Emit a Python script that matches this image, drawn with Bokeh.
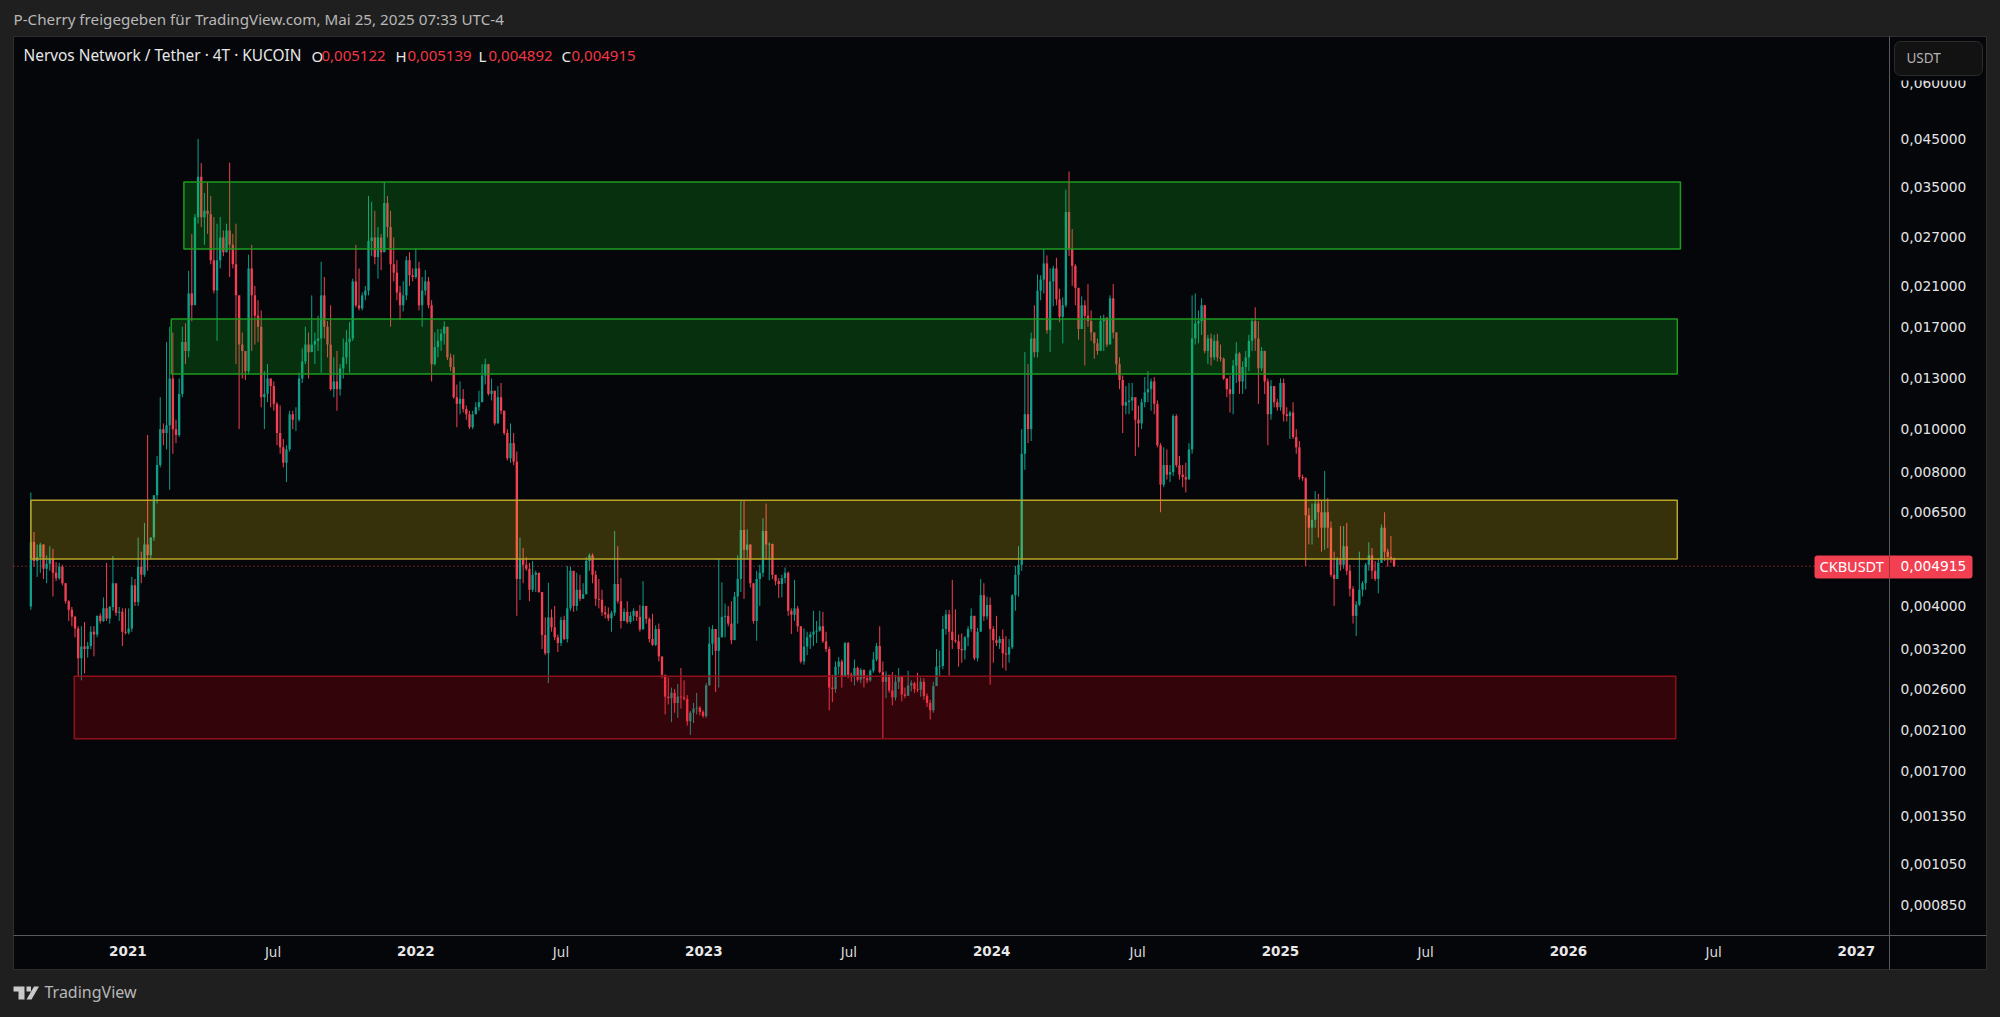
import math
import pandas as pd
from bokeh.embed import file_html
from bokeh.resources import INLINE
from bokeh.plotting import figure
from bokeh.models import (BoxAnnotation, ColumnDataSource, CustomJSTickFormatter, FixedTicker, Label,
                          LinearAxis, PolyAnnotation, Range1d)

PRICE_UNIT = 1e-6
first_open = 3990
start_date = "2020-08-31"
step_days = 4

closes = [
    5570,5050,5150,5500,4850,4980,5100,4750,4620,4900,
    4500,4100,3920,3780,3560,3050,3240,3200,3250,3500,
    3450,3800,3700,3950,3750,3980,4500,3860,3880,3500,
    3480,3560,4450,4080,4900,4700,5500,5200,5700,7100,
    8300,10000,9800,10200,13000,10000,9700,12000,15700,15000,
    20200,19000,30000,37000,30000,31000,30500,24000,20500,24000,
    27000,25000,28000,26000,23500,20000,15500,15000,13500,23000,
    20000,18000,17000,11800,12000,13000,12500,11400,9800,9100,
    8400,9000,10800,10500,10500,13000,14200,15500,14900,
    15500,15800,16000,20000,17000,15500,12300,12800,12300,13700,
    14500,15700,16000,21500,19000,18700,20000,20500,26500,27000,
    24400,27000,25000,32300,28500,23500,22500,20300,19000,20000,
    24000,22200,22000,23000,19000,20500,21500,19000,14000,15300,
    15800,16400,17000,14500,13800,11800,11400,11700,11100,10800,
    10100,10800,11200,11500,13200,14000,12000,12200,10300,11800,
    11000,9800,8600,9300,8450,4600,5100,4950,4850,4350,
    4700,4750,4300,3440,3130,3770,3580,3400,3300,3720,
    3370,3950,4800,4000,4350,4150,
    4250,5050,5200,4700,4150,4130,3870,3830,3750,3860,
    4480,4100,3700,3880,3680,3800,3900,3780,3540,4000,
    3740,3370,3270,3550,3080,2800,2500,2480,2550,2420,
    2500,2490,2470,2200,2300,2350,2360,2310,2260,2650,
    3290,3550,3170,3400,3780,3800,3650,3350,4200,4600,
    5930,5350,5500,4500,3700,4600,4750,5900,5500,5520,
    4700,4550,4480,4620,4750,3900,3820,3950,3600,3000,
    3240,3400,3450,3500,3520,3600,3330,3200,2620,2600,
    2920,3000,2780,3300,2800,
    2770,2900,2730,2870,2750,2720,2860,3030,3250,2840,
    2700,2800,2580,2490,2700,2770,2530,2510,2650,2680,
    2600,2590,2700,2510,2420,2330,2640,2920,2930,3550,
    3830,3500,3350,3330,3200,3180,3400,3550,3800,3050,
    3500,4230,3790,4020,3550,3350,3300,3370,3130,3110,
    3230,4230,4700,4950,
    8800,10800,10000,16000,14900,20500,21700,23600,16700,21500,
    23000,19600,17900,19000,30800,25500,23300,20800,16800,19000,
    18000,17500,16500,15600,15000,17500,17800,15500,19700,16500,
    14000,12900,11300,11500,11600,11800,10500,10300,11500,12100,
    12300,12800,11400,9200,7500,8300,7900,8000,10700,8300,
    7900,7800,7700,9000,16000,17300,17500,19000,15000,16000,
    14500,15800,14500,14400,13000,12300,12000,13900,14800,12800,
    13800,14500,15800,17500,16000,13700,15000,12800,10800,12500,
    11500,11200,12700,10800,10700,10900,9600,9100,7800,7750,
    6400,6000,6250,6800,6500,6000,6500,6000,4700,4600,
    5100,4950,5450,4800,4370,3800,4030,4350,4500,4950,
    5200,4800,4600,5000,6000,5300,5160,5122,4915,
]
highs = [
    7200,5870,5500,5550,5500,5200,5450,5380,5020,5000,
    4950,4500,4120,3980,3800,3600,3600,3680,3320,3600,
    3600,3800,3850,4180,5000,4000,5180,4450,3980,3950,
    3950,3950,4650,4600,5700,5300,6150,9700,5700,7100,
    8700,11800,10300,15700,17000,16500,10500,13000,17000,17300,
    22700,27500,30500,45000,39700,34000,36000,33500,30000,29000,
    30000,28000,29000,39800,27500,29000,19500,16500,15000,24700,
    26000,21000,19500,18500,13500,14000,13000,12800,11500,11300,
    9500,9200,11000,11000,11200,13400,15200,17000,16500,
    20000,16500,18000,23800,22000,17500,19000,14500,15000,14000,
    16000,16700,17400,21800,26000,23000,20300,21000,33500,32500,
    31000,28500,27500,36000,33500,31000,27000,24000,21000,21500,
    24500,25000,23000,25500,23800,22000,22800,22000,19500,16500,
    16800,16800,17500,17000,14800,14700,12600,12800,12300,11300,
    11000,11000,11500,12200,14000,14400,14000,13000,12200,12500,
    12700,11000,10000,10300,9800,8900,5700,5400,5150,5000,
    5050,4800,4750,4300,3770,4510,3930,4000,3450,3780,
    3800,4920,4900,4700,4750,4700,
    4500,5150,5250,5250,4800,4600,4350,4000,3970,3900,
    5900,5450,4620,3950,4100,3880,3950,3820,4020,4550,
    4000,3770,3840,3620,3650,3050,2750,2760,2620,2600,
    2670,2900,2720,2520,2320,2420,2550,2380,2330,2680,
    3590,3620,3450,5100,4520,4050,4000,4100,4300,5200,
    6920,6920,5950,5500,4500,4800,4950,6300,6800,5560,
    5500,4700,4620,4700,4880,4780,3950,4580,4000,3600,
    3560,3500,3500,3900,3700,3900,3880,3500,3240,2800,
    3000,3070,3030,3320,3320,
    2830,3030,2920,2900,2880,2800,2880,3150,3300,3600,
    3000,2850,2720,2840,2800,2900,2780,2620,2860,2720,
    2700,2830,2760,2750,2540,2460,2700,3200,3170,3800,
    3920,3920,4580,3930,3450,3470,3420,3600,3950,3800,
    3570,4600,4500,4200,4180,3600,3800,3420,3540,3420,
    3370,4250,4920,5450,
    10000,14900,14000,16500,19000,22300,22200,25500,24600,23000,
    23300,24300,20700,19800,34600,38000,28200,23500,19700,19900,
    19500,21200,18500,16500,16000,18000,18100,17900,20000,21200,
    16500,14500,13200,12500,12700,12700,11700,11300,11700,13100,
    13500,13000,13100,11600,9300,9100,9000,8300,10800,10800,
    8700,8300,8400,9300,20000,20200,18500,19700,19000,16300,
    16400,16300,16400,15500,14500,13000,13200,14300,15700,14900,
    14200,15000,16300,17800,18800,17500,15300,15000,13000,12900,
    12500,11700,13000,13000,11200,11000,11500,10000,9400,7900,
    7800,6650,6800,7250,7150,6900,8050,7000,6200,5300,
    5150,6050,6050,6150,4950,4430,4100,5300,4550,5000,
    5560,5400,5050,5100,6100,6500,5380,5750,5139,
]
lows = [
    3920,4900,4650,4750,4600,4500,4800,4200,4550,4580,
    4450,4050,3700,3600,3400,2780,2720,2820,3060,3200,
    3080,3400,3650,3680,3700,3650,3900,3800,3700,3250,
    3450,3450,3500,4000,4000,4500,4650,4800,5100,5600,
    6800,8200,9200,9000,7300,8800,9300,9600,11800,14000,
    14500,17500,20500,29000,28500,26000,27500,23500,20200,15800,
    23000,24500,25000,22000,23000,14000,10000,13000,12900,13300,
    15000,15500,15700,11200,10000,11500,11200,11000,9200,8800,
    8200,7600,8900,10000,9900,10400,12700,14000,13000,
    15000,14000,15000,13400,16000,14500,12200,11800,11000,11900,
    13000,14000,13400,15800,18800,18500,18500,19500,20000,24500,
    23500,21800,22800,25500,27000,17000,21500,19500,17600,18400,
    19500,21000,21500,21800,18500,17000,20000,18700,12800,13900,
    14500,15000,15500,14300,13500,11700,10100,10800,10900,10500,
    10000,10000,10900,11000,11500,12600,11900,11600,10200,10300,
    10800,9700,8500,8400,8300,3800,4120,4500,4800,4100,
    4300,4300,4280,3200,3100,2680,3500,3350,3150,3250,
    3350,3310,3900,3880,3900,4100,
    4200,4250,4800,4500,4000,3950,3800,3750,3700,3500,
    3800,4050,3560,3700,3650,3650,3700,3700,3500,3700,
    3650,3310,3250,3250,3000,2750,2280,2400,2190,2300,
    2240,2350,2450,2150,2050,2180,2280,2270,2240,2240,
    2650,3100,2560,2620,3400,3400,3600,3280,3400,3650,
    4300,4150,5100,4400,3650,3340,4000,4650,5100,4570,
    4600,4450,4170,4180,4500,3800,3460,3700,3500,2970,
    2950,3100,3200,3250,3300,3500,3300,3150,2330,2430,
    2550,2800,2620,2780,2750,
    2700,2650,2700,2680,2620,2680,2700,2830,3000,2820,
    2010,2480,2550,2390,2450,2600,2440,2480,2550,2570,
    2550,2560,2500,2460,2370,2220,2300,2650,2780,2880,
    3450,2790,3200,3300,2920,2980,3030,3250,3500,3020,
    3000,3500,3700,3730,2660,2980,3250,3200,2900,2860,
    2980,3200,3900,4200,
    4800,8100,9300,9400,14500,14500,19500,20200,16400,14900,
    18900,19000,17400,15600,18800,24500,21000,19000,15900,16800,
    13900,17000,15800,14400,14700,15300,15000,15300,16300,16000,
    13300,12300,9800,10800,10800,11000,8700,9100,10000,11200,
    11500,11000,10800,9100,6500,7400,7700,7600,7850,8200,
    7700,7400,7200,7900,8800,15500,15600,16300,14800,14000,
    13900,14300,14200,14200,12900,11800,10900,10800,12700,12000,
    12000,12300,13500,15000,15000,11400,13500,12000,9200,10500,
    11200,11000,11000,10400,10400,9500,9500,8800,7700,7650,
    4920,5500,5500,6000,5700,5300,5350,5400,4650,4000,
    4750,4800,4850,4700,4200,3650,3420,4000,4200,4350,
    4800,4600,4550,4270,5000,5050,4900,5000,4892,
]

price_ticks = [0.06, 0.045, 0.035, 0.027, 0.021, 0.017, 0.013, 0.01, 0.008, 0.0065,
               0.004, 0.0032, 0.0026, 0.0021, 0.0017, 0.00135, 0.00105, 0.00085]
year_dates = ["2021-01-01", "2022-01-01", "2023-01-01", "2024-01-01", "2025-01-01", "2026-01-01", "2027-01-01"]
year_labels = ["2021", "2022", "2023", "2024", "2025", "2026", "2027"]
month_dates = ["2021-07-04", "2022-07-04", "2023-07-04", "2024-07-04", "2025-07-04", "2026-07-04"]
month_labels = ["Jul"] * 6

zone_left = ["2021-03-13", "2021-02-25", "2020-08-31", "2020-10-25"]
zone_right = ["2026-05-23", "2026-05-19", "2026-05-19", "2026-05-17"]
zone_top = [0.0360, 0.01769, 0.00692, 0.00278]
zone_bottom = [0.02544, 0.0133, 0.0051, 0.00201]
zone_fill = ["#14c81e", "#14c81e", "#ffe00a", "#e60014"]
zone_line = ["#1f9a1f", "#1f9a1f", "#b8a52a", "#8f1018"]
zone_alpha = [0.22, 0.22, 0.2, 0.21]

last_price = 0.004915
UP = "#0f9e8a"
DOWN = "#f23f52"
BG = "#04060a"
OUTER = "#1f1f1f"


def ms(d):
    return (pd.Timestamp(d) - pd.Timestamp(0)) // pd.Timedelta(milliseconds=1)


dates = pd.date_range(start_date, periods=len(closes), freq=f"{step_days}D")
xs = [ms(d) for d in dates]
opens = [first_open] + closes[:-1]
up = [c >= o for o, c in zip(opens, closes)]


def side(flag):
    idx = [i for i, u in enumerate(up) if u == flag]
    return ColumnDataSource(dict(
        x=[xs[i] for i in idx],
        o=[opens[i] * PRICE_UNIT for i in idx],
        c=[closes[i] * PRICE_UNIT for i in idx],
        h=[highs[i] * PRICE_UNIT for i in idx],
        l=[lows[i] * PRICE_UNIT for i in idx],
    ))


# The plotting area fills the whole window; the panes are drawn inside it.
pane_x0, pane_x1 = ms("2020-08-09"), ms("2027-02-12")      # pixels 13 .. 1889
pane_y0, pane_y1 = 0.000725, 0.0765                         # pixels 935 .. 36
x_per_px = (pane_x1 - pane_x0) / 1876
ln_per_px = math.log(pane_y1 / pane_y0) / 899

p = figure(width=2000, height=1017, output_backend="svg", toolbar_location=None,
           x_range=Range1d(pane_x0 - 13 * x_per_px, pane_x1 + 111 * x_per_px),
           y_range=Range1d(pane_y0 * math.exp(-82 * ln_per_px), pane_y1 * math.exp(36 * ln_per_px)),
           y_axis_type="log", y_axis_location="right",
           min_border_left=0, min_border_top=0, min_border_right=0, min_border_bottom=0,
           background_fill_color=OUTER, border_fill_color=OUTER)
p.grid.visible = False
p.outline_line_color = None


def scr_box(l, r, t, b, fill, level="annotation", line=None, radius=0):
    box = BoxAnnotation(left=l, right=r, top=1017 - t, bottom=1017 - b,
                        left_units="screen", right_units="screen", top_units="screen", bottom_units="screen",
                        fill_color=fill, fill_alpha=1, line_color=line, line_alpha=1 if line else 0,
                        level=level, border_radius=radius)
    p.add_layout(box)


def lab(text, px, py, size, color, style="normal", font="Noto Sans", align="left"):
    p.add_layout(Label(x=px, y=1017 - py, x_units="screen", y_units="screen", text=text,
                       text_font=font, text_font_size=f"{size}px", text_color=color,
                       text_font_style=style, text_align=align, text_baseline="middle", level="annotation"))


scr_box(13, 1986, 36, 969, BG, level="underlay", line="#2e2e2e")

# last price line
p.line([pane_x0, pane_x1], [last_price, last_price], line_color=DOWN, line_width=1, line_dash=[1, 3], line_alpha=0.9)

body_w = step_days * 86400000 * 0.74
for flag, color in ((True, UP), (False, DOWN)):
    s = side(flag)
    p.segment("x", "l", "x", "h", source=s, line_color=color, line_width=1)
    p.vbar(x="x", width=body_w, bottom="o", top="c", source=s, fill_color=color, line_color=None)

p.quad(left=[ms(d) for d in zone_left], right=[ms(d) for d in zone_right], top=zone_top, bottom=zone_bottom,
       fill_color=zone_fill, fill_alpha=zone_alpha, line_color=zone_line, line_width=1.5)

# price axis
ya = p.yaxis[0]
ya.fixed_location = pane_x1
ya.ticker = FixedTicker(ticks=price_ticks, minor_ticks=[])
ya.formatter = CustomJSTickFormatter(code="return tick.toFixed(6).replace('.', ',')")
ya.major_tick_line_color = None
ya.minor_tick_line_color = None
ya.axis_line_color = None
ya.major_label_text_color = "#e4e4e4"
ya.major_label_text_font = "DejaVu Sans"
ya.major_label_text_font_size = "13.8px"
ya.major_label_standoff = 5

# year axis
xa = p.xaxis[0]
xa.fixed_location = pane_y0
xa.ticker = FixedTicker(ticks=[ms(d) for d in year_dates], minor_ticks=[])
xa.major_label_overrides = {ms(d): t for d, t in zip(year_dates, year_labels)}
xa.major_tick_line_color = None
xa.minor_tick_line_color = None
xa.axis_line_color = None
xa.major_label_text_color = "#e8e8e8"
xa.major_label_text_font = "DejaVu Sans"
xa.major_label_text_font_style = "bold"
xa.major_label_text_font_size = "13.5px"
xa.major_label_standoff = 4

# month axis
ma = LinearAxis(fixed_location=pane_y0,
                ticker=FixedTicker(ticks=[ms(d) for d in month_dates], minor_ticks=[]),
                major_label_overrides={ms(d): t for d, t in zip(month_dates, month_labels)},
                major_tick_line_color=None, minor_tick_line_color=None, axis_line_color=None,
                major_label_text_color="#dcdcdc", major_label_text_font="DejaVu Sans",
                major_label_text_font_size="13.5px", major_label_standoff=2)
p.add_layout(ma, "below")

# scale separators
scr_box(1888.5, 1889.5, 36, 969, "#5a5a5a")
scr_box(13, 1986, 934.5, 935.5, "#5a5a5a")

# USDT selector
scr_box(1890, 1985, 37, 80, BG)
scr_box(1894, 1982, 41, 75, "#121212", line="#2b2b2b", radius=6)
lab("USDT", 1906, 57, 13.5, "#b4b4b4")

# last price flag
scr_box(1814, 1972, 555, 578, "#f23f52", radius=3)
scr_box(1888.5, 1889.5, 555, 578, "#a8303c")
lab("CKBUSDT", 1819, 565, 14.5, "#ffffff")
lab("0,004915", 1900, 565, 13.8, "#ffffff", font="DejaVu Sans")

# header
lab("P-Cherry freigegeben für TradingView.com, Mai 25, 2025 07:33 UTC-4", 13, 18.5, 15.2, "#b8b8b8")
lab("Nervos Network / Tether · 4T · KUCOIN", 23, 55, 15.4, "#e8e8e8")
legend_keys = ["O", "H", "L", "C"]
legend_vals = ["0,005122", "0,005139", "0,004892", "0,004915"]
for key, val, kx, vx in zip(legend_keys, legend_vals, [311, 395, 478, 561], [321, 407, 488, 571]):
    lab(key, kx, 55, 15, "#e8e8e8")
    lab(val, vx, 55, 15, "#f23645")

# TradingView mark
logo_color = "#c9c9c9"
for pts in (
    [(13, 986), (24, 986), (24, 999), (18, 999), (18, 991), (13, 991)],
    [(26, 986), (30.5, 986), (30.5, 991), (26, 991)],
    [(33.5, 986), (38.5, 986), (31, 999), (26, 999)],
):
    p.add_layout(PolyAnnotation(xs=[a for a, _ in pts], ys=[1017 - b for _, b in pts],
                                xs_units="screen", ys_units="screen", fill_color=logo_color, fill_alpha=1,
                                line_color=None, level="annotation"))
lab("TradingView", 44, 991, 16, "#b8b8b8")

html = file_html(p, INLINE).replace("<body>", f'<body style="background:{OUTER}">')
open("out.html", "w").write(html)
